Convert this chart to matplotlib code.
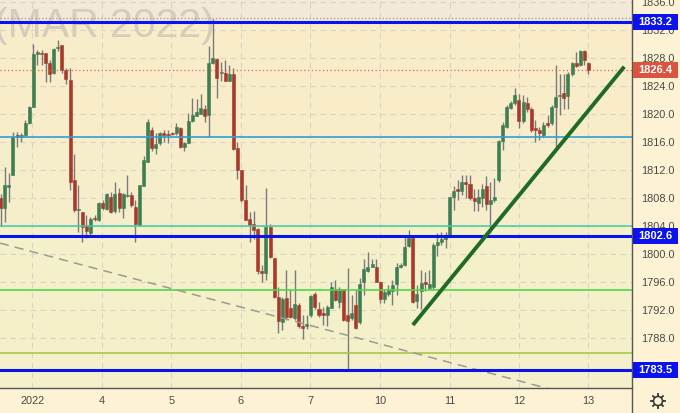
import matplotlib
matplotlib.use('Agg')
import matplotlib.pyplot as plt
from matplotlib.patches import Rectangle, Circle
from matplotlib.lines import Line2D
import matplotlib.transforms as mtransforms
import math

plt.rcParams['font.family'] = ['Liberation Sans', 'DejaVu Sans']

# ---------------- data (hourly candles, gold futures MAR 2022) ----------------
opens = [1808.1, 1806.6, 1809.7, 1811.4, 1817.0, 1816.8, 1817.0, 1818.7, 1821.1, 1828.7,
         1828.8, 1828.7, 1827.4, 1825.9, 1829.5, 1829.9, 1826.4, 1824.9, 1810.6, 1806.4,
         1806.1, 1804.2, 1803.1, 1805.2, 1804.9, 1807.4, 1806.5, 1808.2, 1806.2, 1808.7,
         1806.6, 1808.4, 1808.5, 1806.8, 1804.2, 1809.8, 1813.2, 1817.8, 1815.2, 1815.9,
         1817.4, 1817.2, 1817.4, 1817.3, 1818.1, 1815.4, 1815.9, 1819.0, 1819.8, 1820.1,
         1820.8, 1819.9, 1827.3, 1827.9, 1825.9, 1825.9, 1824.7, 1825.7, 1815.2, 1812.0,
         1807.8, 1805.0, 1804.4, 1803.6, 1797.6, 1797.4, 1803.9, 1799.5, 1793.9, 1790.4,
         1793.8, 1792.3, 1790.9, 1792.8, 1789.8, 1789.7, 1791.3, 1794.4, 1792.2, 1791.6,
         1791.4, 1792.4, 1795.0, 1793.2, 1795.0, 1791.4, 1790.9, 1792.8, 1790.3, 1796.0,
         1797.6, 1798.2, 1798.2, 1796.1, 1793.6, 1794.4, 1794.7, 1795.7, 1798.2, 1798.5,
         1801.2, 1802.4, 1793.3, 1794.7, 1796.1, 1795.2, 1795.4, 1801.4, 1801.8, 1802.2,
         1802.8, 1808.2, 1809.3, 1809.0, 1810.3, 1810.0, 1808.0, 1807.4, 1808.0, 1809.7,
         1807.2, 1807.8, 1810.6, 1816.2, 1818.2, 1820.9, 1821.6, 1822.0, 1819.0, 1821.6,
         1820.8, 1818.0, 1817.7, 1817.0, 1818.8, 1818.7, 1821.1, 1822.6, 1823.0, 1822.6,
         1825.8, 1827.3, 1827.0, 1829.1, 1827.3]
highs = [1808.6, 1812.5, 1811.6, 1817.5, 1817.5, 1817.4, 1819.2, 1821.2, 1830.0, 1829.2,
         1829.2, 1828.7, 1827.8, 1829.5, 1830.6, 1829.9, 1826.6, 1826.6, 1814.4, 1809.9,
         1806.1, 1805.6, 1805.4, 1805.6, 1807.5, 1807.8, 1808.7, 1808.9, 1810.4, 1809.5,
         1808.7, 1811.3, 1808.9, 1807.8, 1809.9, 1814.0, 1819.3, 1818.2, 1817.3, 1817.5,
         1817.8, 1817.8, 1817.5, 1818.7, 1818.2, 1816.1, 1820.2, 1822.4, 1822.2, 1822.9,
         1821.4, 1829.7, 1833.6, 1828.1, 1827.5, 1827.8, 1827.0, 1826.6, 1816.1, 1812.0,
         1809.9, 1806.1, 1806.2, 1803.7, 1798.5, 1809.5, 1804.3, 1799.5, 1795.4, 1793.9,
         1797.8, 1794.9, 1797.8, 1793.0, 1791.3, 1791.3, 1794.2, 1794.6, 1793.2, 1792.5,
         1792.8, 1796.0, 1796.3, 1795.4, 1795.1, 1798.0, 1794.2, 1794.9, 1796.6, 1799.4,
         1800.3, 1799.4, 1799.3, 1796.2, 1795.1, 1795.6, 1796.3, 1798.7, 1798.7, 1802.5,
         1803.5, 1802.8, 1795.6, 1797.8, 1797.5, 1797.8, 1801.6, 1803.0, 1803.2, 1803.2,
         1808.2, 1809.7, 1810.6, 1811.3, 1811.4, 1811.4, 1809.4, 1809.4, 1810.1, 1811.2,
         1810.4, 1810.9, 1816.3, 1818.9, 1821.3, 1821.9, 1823.7, 1822.9, 1822.8, 1822.5,
         1821.1, 1819.2, 1818.2, 1818.9, 1819.9, 1821.3, 1827.0, 1825.8, 1825.8, 1826.1,
         1827.5, 1828.9, 1829.2, 1829.2, 1827.5]
lows = [1804.0, 1804.6, 1807.5, 1811.3, 1815.4, 1816.0, 1816.8, 1818.6, 1821.1, 1827.1,
        1827.0, 1824.6, 1824.6, 1825.7, 1829.0, 1825.9, 1824.3, 1809.2, 1806.1, 1803.2,
        1801.8, 1802.3, 1802.5, 1804.8, 1804.7, 1806.3, 1806.3, 1805.9, 1805.9, 1806.1,
        1805.2, 1808.2, 1806.8, 1801.7, 1804.1, 1809.8, 1813.2, 1814.7, 1814.4, 1815.6,
        1816.1, 1815.9, 1817.0, 1817.0, 1815.2, 1814.7, 1815.9, 1818.9, 1819.8, 1820.0,
        1818.9, 1816.8, 1827.2, 1822.4, 1824.7, 1824.7, 1824.7, 1814.9, 1810.8, 1807.5,
        1804.9, 1801.8, 1802.2, 1797.2, 1796.1, 1796.3, 1799.5, 1793.7, 1788.7, 1789.2,
        1790.6, 1790.9, 1790.6, 1789.5, 1787.9, 1789.4, 1791.1, 1792.2, 1791.1, 1789.9,
        1789.7, 1792.3, 1793.3, 1792.3, 1790.5, 1783.6, 1790.6, 1789.4, 1790.1, 1794.2,
        1797.5, 1798.2, 1796.0, 1793.1, 1793.0, 1794.1, 1792.8, 1794.2, 1798.1, 1798.4,
        1801.1, 1793.1, 1792.3, 1792.2, 1794.7, 1795.0, 1795.0, 1799.7, 1801.3, 1800.9,
        1802.7, 1806.3, 1807.8, 1808.5, 1808.1, 1807.8, 1806.2, 1806.2, 1806.8, 1806.3,
        1803.0, 1807.5, 1810.4, 1814.9, 1818.1, 1820.8, 1821.4, 1818.1, 1818.7, 1820.4,
        1817.5, 1816.1, 1816.3, 1816.8, 1818.2, 1818.5, 1815.4, 1819.9, 1820.8, 1820.8,
        1825.5, 1826.8, 1826.9, 1827.0, 1825.8]
closes = [1806.6, 1809.9, 1809.8, 1816.8, 1816.7, 1817.0, 1818.7, 1821.1, 1828.6, 1828.8,
          1828.6, 1827.3, 1825.7, 1829.4, 1829.6, 1826.3, 1825.1, 1810.4, 1806.3, 1806.5,
          1803.9, 1803.3, 1805.1, 1805.0, 1807.4, 1806.6, 1808.6, 1806.0, 1808.6, 1806.6,
          1808.6, 1808.5, 1807.0, 1804.4, 1809.9, 1813.5, 1818.9, 1815.2, 1815.8, 1817.4,
          1817.1, 1817.0, 1817.2, 1818.2, 1815.4, 1815.9, 1819.0, 1819.9, 1820.4, 1820.9,
          1819.8, 1827.4, 1828.0, 1825.2, 1826.0, 1824.8, 1825.8, 1815.1, 1812.0, 1807.8,
          1804.9, 1804.2, 1803.5, 1797.6, 1797.3, 1803.9, 1799.6, 1793.9, 1790.5, 1793.6,
          1791.1, 1791.1, 1792.9, 1789.7, 1789.5, 1790.0, 1794.1, 1792.5, 1791.4, 1791.4,
          1792.5, 1795.4, 1793.5, 1795.1, 1790.6, 1790.5, 1791.6, 1789.5, 1795.7, 1797.9,
          1798.2, 1798.6, 1796.1, 1793.6, 1794.6, 1795.0, 1795.6, 1798.2, 1798.5, 1801.1,
          1802.4, 1793.2, 1794.4, 1795.9, 1795.7, 1795.7, 1801.3, 1801.8, 1802.2, 1802.8,
          1808.2, 1809.0, 1809.0, 1810.4, 1810.1, 1808.0, 1807.6, 1808.2, 1809.4, 1807.2,
          1807.8, 1808.2, 1816.2, 1818.5, 1821.1, 1821.6, 1822.8, 1819.0, 1821.8, 1820.8,
          1817.7, 1817.7, 1817.3, 1818.5, 1818.5, 1821.1, 1822.5, 1822.8, 1822.3, 1825.8,
          1827.4, 1826.9, 1829.1, 1827.8, 1826.4]

day_labels = ['2022', '4', '5', '6', '7', '10', '11', '12', '13']
day_ticks = [7.75, 24.8, 41.8, 58.9, 75.8, 92.9, 110.0, 127.0, 144.0]
price_ticks = [1788, 1792, 1796, 1800, 1804, 1808, 1812, 1816, 1820, 1824, 1828, 1832, 1836]

key_levels = [1833.2, 1802.6, 1783.5]
last_price = 1826.4
light_blue_level = 1816.8
teal_level = 1804.0
green_level = 1794.9
olive_level = 1785.9
rect_top_level = 1833.7

trend_x = [101.0, 152.8]
trend_y = [1789.9, 1826.8]
dash_x = [-0.2, 137.5]
dash_y = [1801.6, 1780.3]

# ---------------- figure ----------------
W, H = 680, 413
fig = plt.figure(figsize=(W / 100, H / 100), dpi=100)
fig.patch.set_facecolor('#FDF3D4')
ax = fig.add_axes([0, 25 / H, 632 / W, 388 / H])
ax.set_facecolor('#F6EECB')
ymin, ymax = 1780.9, 1836.33
ax.set_xlim(-0.17, 154.7)
ax.set_ylim(ymin, ymax)

# background zones
ax.axhspan(key_levels[0], ymax, color='#F2E9D8', zorder=0, lw=0)
ax.axhspan(light_blue_level, key_levels[0], color='#F8ECC9', zorder=0, lw=0)
ax.axhspan(teal_level, light_blue_level, color='#F6EECB', zorder=0, lw=0)
ax.axhspan(olive_level, teal_level, color='#F4F0CA', zorder=0, lw=0)
ax.axhspan(ymin, olive_level, color='#F5F0CC', zorder=0, lw=0)

# grid
for p in price_ticks:
    ax.axhline(p, color='#DAD4C4', lw=0.8, ls=(0, (5, 4)), zorder=0.5)
for d in day_ticks:
    ax.axvline(d, color='#DAD4C4', lw=0.8, ls=(0, (5, 4)), zorder=0.5)

# watermark
ax.text(-6 / W, 1 - 37 / H, '(MAR 2022)', transform=fig.transFigure, fontsize=29.5,
        color='#D5CCBC', ha='left', va='baseline', zorder=0.8)

# candles
up_c, dn_c, wick_c = '#3F7E51', '#A8392B', '#7A7A7A'
bw = 0.74
for i, (o, h, l, c) in enumerate(zip(opens, highs, lows, closes)):
    ax.plot([i, i], [l, h], color=wick_c, lw=1.0, zorder=2, solid_capstyle='butt')
    col = up_c if c >= o else dn_c
    lo, hi = min(o, c), max(o, c)
    if hi - lo < 0.18:
        mid = (hi + lo) / 2
        lo, hi = mid - 0.09, mid + 0.09
    ax.add_patch(Rectangle((i - bw / 2, lo), bw, hi - lo, facecolor=col,
                           edgecolor=col, lw=0.4, zorder=2.2))

# horizontal drawings
ax.axhline(rect_top_level, color='#ABA392', lw=1.0, ls=(0, (1, 1.5)), zorder=3)
for lv in key_levels:
    ax.axhline(lv, color='#0A12EE', lw=2.2, zorder=3.2)
ax.axhline(light_blue_level, color='#2E9EDC', lw=1.2, zorder=3)
ax.axhline(teal_level, color='#40CCA4', lw=1.1, zorder=3)
ax.axhline(green_level, color='#4ED84A', lw=1.2, zorder=3)
ax.axhline(olive_level, color='#A6CA46', lw=1.2, zorder=3)
ax.axhline(last_price, color='#E26450', lw=0.9, ls=(0, (1, 2)), zorder=3)

# diagonal lines
ax.plot(dash_x, dash_y, color='#9C9A94', lw=1.1, ls=(0, (6, 4)), zorder=3)
ax.plot(trend_x, trend_y, color='#1F6A24', lw=2.8, solid_capstyle='butt', zorder=3.5)

# axes styling
for s in ['top', 'left', 'right']:
    ax.spines[s].set_visible(False)
ax.spines['bottom'].set_color('#555555')
ax.spines['bottom'].set_linewidth(1.0)
ax.yaxis.tick_right()
ax.set_yticks(price_ticks)
ax.set_yticklabels([f'{p:.1f}' for p in price_ticks])
ax.tick_params(axis='y', length=0, pad=6.5, labelsize=7.9, labelcolor='#4A4A4A')
ax.set_xticks(day_ticks)
ax.set_xticklabels(day_labels)
ax.tick_params(axis='x', length=0, pad=6, labelsize=7.9, labelcolor='#4A4A4A')
for lab in ax.get_yticklabels():
    lab.set_horizontalalignment('left')

# vertical price-axis border
fig.add_artist(Line2D([632 / W, 632 / W], [0, 1], transform=fig.transFigure,
                      color='#555555', lw=1.0))

# price labels on right axis
bt = mtransforms.blended_transform_factory(fig.transFigure, ax.transData)
box_h = 16 / 7.0
for lv, txt, col in [(key_levels[0], f'{key_levels[0]:.1f}', '#0A12EE'),
                     (key_levels[1], f'{key_levels[1]:.1f}', '#0A12EE'),
                     (key_levels[2], f'{key_levels[2]:.1f}', '#0A12EE'),
                     (last_price, f'{last_price:.1f}', '#DB5440')]:
    r = Rectangle((633 / W, lv - box_h / 2), 45 / W, box_h, transform=bt,
                  facecolor=col, edgecolor='none', clip_on=False, zorder=5)
    fig.add_artist(r)
    fig.text(655.5 / W, lv, txt, transform=bt, color='white', fontsize=8.0,
             fontweight='bold', ha='center', va='center', zorder=6)

# gear icon
gear = Circle((658, 12), 4.5, transform=mtransforms.IdentityTransform(),
              facecolor='none', edgecolor='#333333', lw=1.1)
fig.add_artist(gear)
for k in range(8):
    a = k * math.pi / 4
    x0, y0 = 658 + 5.0 * math.cos(a), 12 + 5.0 * math.sin(a)
    x1, y1 = 658 + 7.0 * math.cos(a), 12 + 7.0 * math.sin(a)
    fig.add_artist(Line2D([x0, x1], [y0, y1], transform=mtransforms.IdentityTransform(),
                          color='#333333', lw=1.3))

fig.savefig('out.png', dpi=100, facecolor=fig.get_facecolor())
